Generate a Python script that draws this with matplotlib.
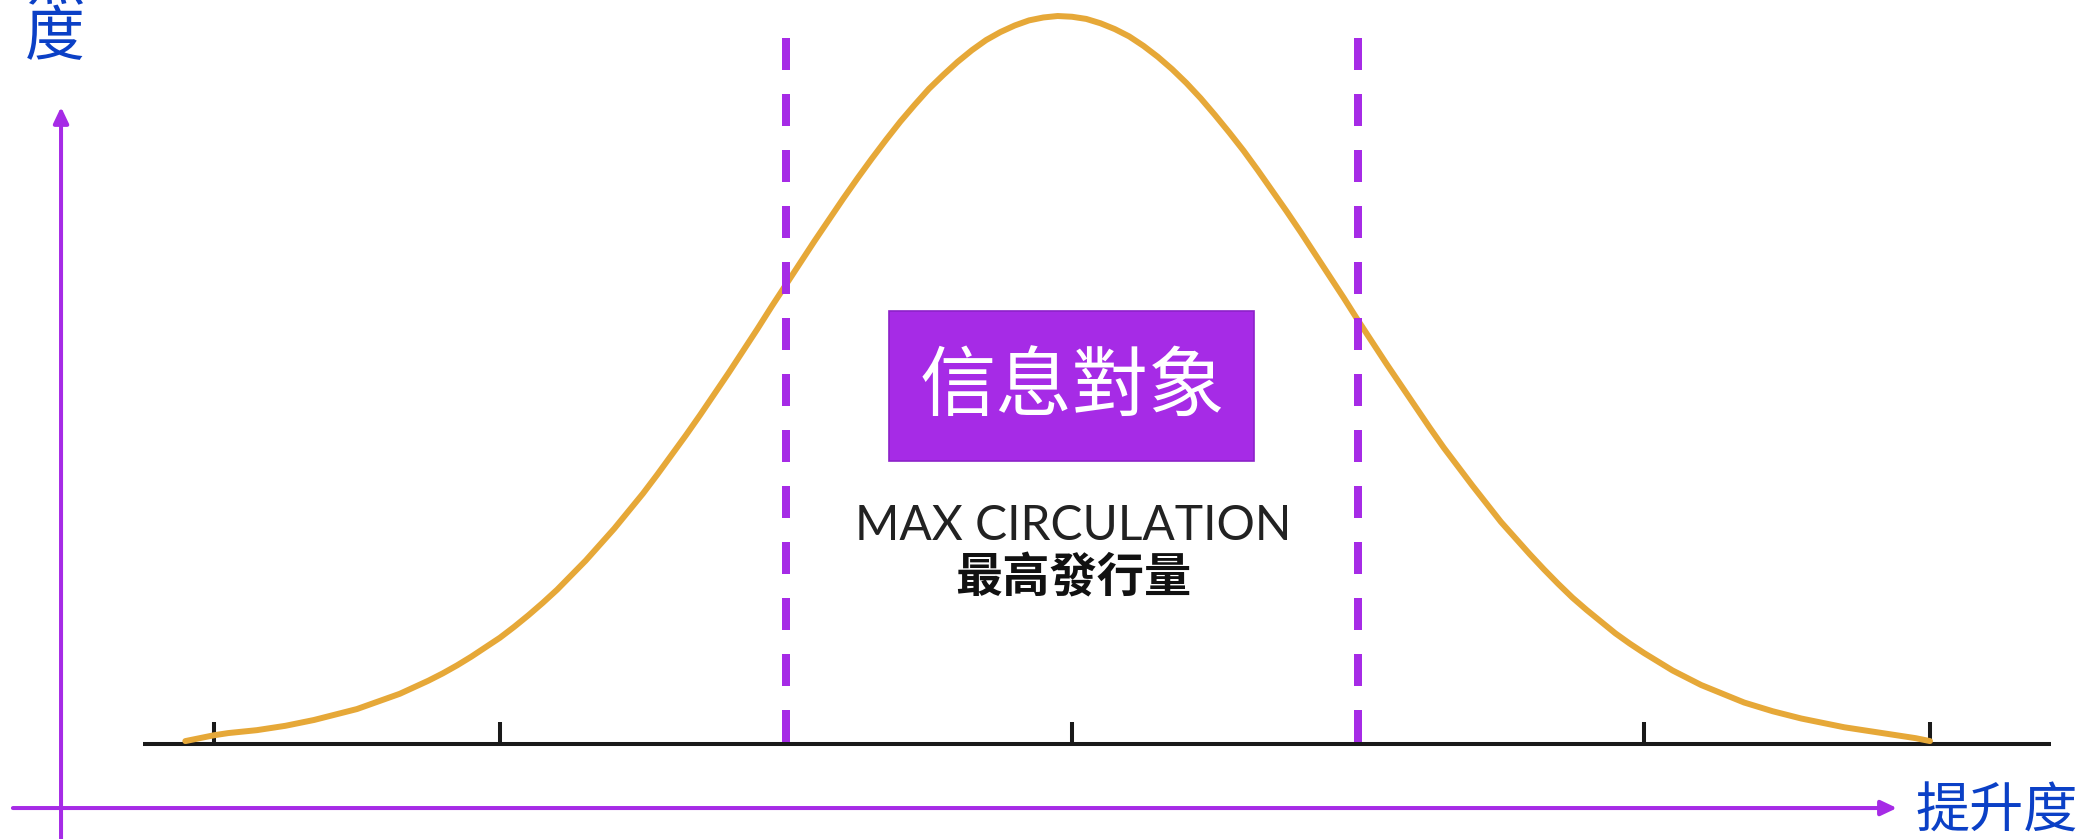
import numpy as np
import matplotlib
matplotlib.use('Agg')
import matplotlib.pyplot as plt
from matplotlib.patches import Rectangle

plt.rcParams['font.family'] = ['Noto Sans CJK TC', 'DejaVu Sans']

# Courbe en cloche (x en unités de graduation, pas de 0.05 de -3.1 à 3.0)
curve_y = [0.004, 0.008, 0.012, 0.015, 0.017, 0.019, 0.022, 0.025, 0.029, 0.033,
           0.038, 0.043, 0.048, 0.055, 0.062, 0.069, 0.078, 0.087, 0.097, 0.108,
           0.120, 0.133, 0.146, 0.161, 0.177, 0.194, 0.212, 0.232, 0.252, 0.274,
           0.296, 0.320, 0.344, 0.370, 0.397, 0.424, 0.452, 0.481, 0.510, 0.540,
           0.570, 0.601, 0.631, 0.661, 0.691, 0.720, 0.749, 0.777, 0.804, 0.830,
           0.855, 0.878, 0.900, 0.919, 0.937, 0.953, 0.967, 0.978, 0.987, 0.994,
           0.998, 1.000, 0.999, 0.996, 0.990, 0.982, 0.972, 0.959, 0.944, 0.927,
           0.908, 0.887, 0.864, 0.840, 0.815, 0.788, 0.760, 0.732, 0.703, 0.673,
           0.643, 0.613, 0.582, 0.552, 0.522, 0.493, 0.464, 0.435, 0.407, 0.381,
           0.355, 0.330, 0.305, 0.283, 0.261, 0.240, 0.220, 0.201, 0.184, 0.168,
           0.152, 0.138, 0.125, 0.113, 0.101, 0.091, 0.081, 0.073, 0.065, 0.057,
           0.051, 0.045, 0.040, 0.035, 0.031, 0.027, 0.023, 0.020, 0.017, 0.014,
           0.011, 0.008, 0.004]
curve_x = np.linspace(-3.1, 3.0, len(curve_y))
tick_pos = [-3, -2, -1, 0, 1, 2, 3]
band_edges = [-1, 1]

box_label = '信息對象'
sub_label_en = 'MAX CIRCULATION'
sub_label_zh = '最高發行量'
x_label = '提升度'
y_label = ['熱', '度']

purple = '#A62BE6'
blue = '#0B40C6'
gold = '#E6A838'

fig = plt.figure(figsize=(20.83, 8.39), dpi=100)
ax = fig.add_axes([0, 0, 1, 1])
ax.set_xlim(-3.748, 3.535)
ax.set_ylim(-0.1305, 1.022)
ax.axis('off')

# axe noir avec graduations
ax.plot([-3.248, 3.423], [0, 0], color='#1a1a1a', lw=2.9, solid_capstyle='butt', zorder=2)
ax.vlines(tick_pos, 0, 0.030, color='#1a1a1a', lw=2.9, zorder=2)

# courbe
ax.plot(curve_x, curve_y, color=gold, lw=4.3, solid_capstyle='round',
        solid_joinstyle='round', zorder=3)

# lignes pointillées
for xb in band_edges:
    ax.plot([xb, xb], [0.970, 0], color=purple, lw=5.76, dashes=(4, 3), zorder=4)

# boîte violette
fig.patches.append(Rectangle((0.4268, 0.4505), 0.1752, 0.1788, transform=fig.transFigure,
                             facecolor=purple, edgecolor='#8C22C8', lw=1.2, zorder=5))
fig.text(0.5146, 0.5369, box_label, color='white', fontsize=55,
         ha='center', va='center', zorder=6)

fig.text(0.5151, 0.3565, sub_label_en, family=['Lato', 'DejaVu Sans'], fontweight='normal',
         fontsize=34.5, color='#222222', ha='center', va='baseline')
fig.text(0.5151, 0.3100, sub_label_zh, fontsize=34, fontweight='bold',
         color='#111111', ha='center', va='center')

# flèches des axes
arrow = dict(arrowstyle='-|>,head_length=0.95,head_width=0.45', color=purple, lw=2.9,
             shrinkA=0, shrinkB=0, mutation_scale=10)
ax.annotate('', xy=(0.9107, 0.0369), xytext=(0.0062, 0.0369),
            xycoords='figure fraction', textcoords='figure fraction', arrowprops=arrow)
ax.annotate('', xy=(0.0293, 0.8725), xytext=(0.0293, -0.02),
            xycoords='figure fraction', textcoords='figure fraction', arrowprops=arrow)

fig.text(0.9587, 0.0322, x_label, color=blue, fontsize=39, ha='center', va='center')
fig.text(0.0264, 1.020, y_label[0], color=blue, fontsize=43, ha='center', va='center')
fig.text(0.0264, 0.9535, y_label[1], color=blue, fontsize=43, ha='center', va='center')

fig.savefig('out.png', dpi=100, facecolor='white')
